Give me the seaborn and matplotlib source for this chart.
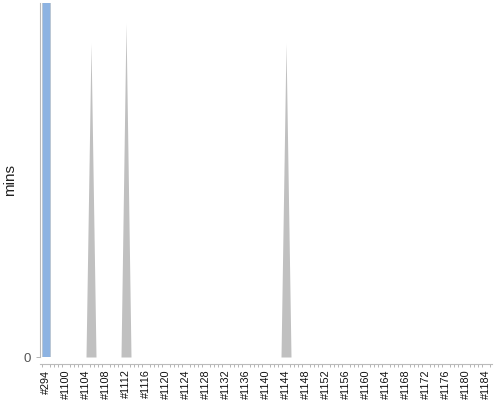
import numpy as np
import pandas as pd
import matplotlib
matplotlib.use("Agg")
import matplotlib.pyplot as plt
from matplotlib.ticker import MultipleLocator
import seaborn as sns

sns.set_style("white")
plt.rcParams["font.family"] = ["Liberation Sans", "DejaVu Sans"]

# builds on the x axis: one old build, then a run of consecutive ones
builds = ["#294"] + ["#%d" % b for b in range(1097, 1186)]

# duration of the highlighted (blue) build, in minutes
current_build = "#294"
current_mins = 120

# other builds that took noticeable time (grey spikes)
spike_builds = ["#1105", "#1112", "#1144"]
spike_mins = [47, 50, 47]

label_every = 4

df = pd.DataFrame({"build": builds})
df["pos"] = np.arange(len(builds))
df["current"] = np.where(df["build"] == current_build, current_mins, 0)
df["other"] = 0.0
for b, m in zip(spike_builds, spike_mins):
    df.loc[df["build"] == b, "other"] = m

fig = plt.figure(figsize=(5, 4), dpi=100)
ax = fig.add_axes([0.08, 0.1075, 0.904, 0.885])

# grey history as an area series
ax.fill_between(df["pos"], df["other"], 0, color="#c0c0c0", linewidth=0)

# current build as a bar
sns.barplot(data=df, x="pos", y="current", native_scale=True, width=1.7,
            color="#8db3e2", saturation=1, edgecolor="#b8c4d0", linewidth=0.6,
            ax=ax)

ax.set_xlim(-1.2, 89.2)
ax.set_ylim(0, 53)
ax.set_xlabel("")
ax.set_ylabel("mins", fontsize=11, color="#222222", labelpad=5)

ax.xaxis.set_minor_locator(MultipleLocator(0.8))
ax.tick_params(axis="x", which="minor", length=2.5, width=0.6, color="#aaaaaa",
               direction="out", bottom=True)
ax.tick_params(axis="x", which="major", length=0, pad=4, labelsize=7.8,
               labelcolor="#111111", labelrotation=90, bottom=True)
ax.tick_params(axis="y", length=3, width=0.6, color="#aaaaaa", left=True,
               labelsize=9.5, labelcolor="#555555")

ticks = df["pos"][::label_every]
ax.set_xticks(ticks)
ax.set_xticklabels(df["build"][::label_every])
ax.set_yticks([0])
ax.set_yticklabels(["0"])
plt.setp(ax.get_xticklabels(), rotation=90, ha="right", va="top")

sns.despine(ax=ax, top=True, right=True)
ax.spines["bottom"].set_position(("outward", 5))
ax.spines["bottom"].set_color("#bbbbbb")
ax.spines["bottom"].set_linewidth(0.8)
ax.spines["left"].set_color("#bbbbbb")
ax.spines["left"].set_linewidth(0.8)

fig.savefig("out.png", dpi=100)
